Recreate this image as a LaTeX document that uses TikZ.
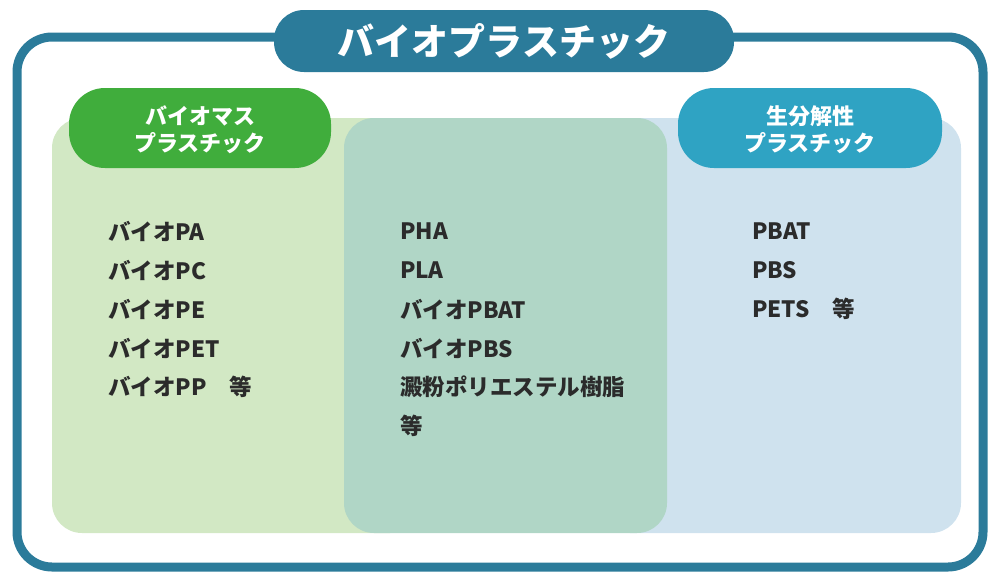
\documentclass[tikz,border=0pt]{standalone}
\usepackage{fontspec}
\setmainfont{Noto Sans CJK JP}
\definecolor{frameblue}{HTML}{2B7B9A}
\definecolor{pgreen}{HTML}{D2E8C4}
\definecolor{pmid}{HTML}{B0D6C6}
\definecolor{pblue}{HTML}{CFE2EE}
\definecolor{hgreen}{HTML}{40AD3C}
\definecolor{hblue}{HTML}{2FA3C3}
\definecolor{txt}{HTML}{2B2B2B}
\tikzset{
  panel/.style={rounded corners=30pt, draw=none},
  item/.style={anchor=west, inner sep=0pt, text=txt, font=\bfseries\fontsize{22.5}{39}\selectfont, align=left},
  head/.style={text=white, font=\bfseries\fontsize{22}{27}\selectfont, align=center, inner sep=0pt}
}
\begin{document}
\begin{tikzpicture}[x=1pt,y=-1pt]
\useasboundingbox (0,0) rectangle (988,571);
% outer frame
\draw[frameblue, line width=9pt, rounded corners=35pt] (17,37) rectangle (983,567);
% panels
\fill[pgreen, panel] (52,118) rectangle (420,533);
\fill[pblue, panel] (600,118) rectangle (961,533);
\fill[pmid, panel] (344,118) rectangle (667,533);
\node[minimum width=368pt, minimum height=415pt, inner sep=0pt] (pg) at (236,325.5) {};
\node[minimum width=323pt, minimum height=415pt, inner sep=0pt] (pm) at (505.5,325.5) {};
\node[minimum width=361pt, minimum height=415pt, inner sep=0pt] (pb) at (780.5,325.5) {};
% title pill
\fill[frameblue, rounded corners=30pt] (274,10) rectangle (734,72);
\node[text=white, font=\bfseries\fontsize{37}{40}\selectfont, inner sep=0pt] (title) at (504,41) {バイオプラスチック};
% header pills
\fill[hgreen, rounded corners=36pt] (69,88) rectangle (331,168);
\node[head] (hg) at (200,130) {バイオマス\\プラスチック};
\fill[hblue, rounded corners=36pt] (678,88) rectangle (942,168);
\node[head] (hb) at (810,130) {生分解性\\プラスチック};
% items
\node[item] (l1) at (108,231) {バイオPA};
\node[item] (l2) at (108,270) {バイオPC};
\node[item] (l3) at (108,309) {バイオPE};
\node[item] (l4) at (108,348) {バイオPET};
\node[item] (l5) at (108,387) {バイオPP　等};
\node[item] (m1) at (400,231) {PHA};
\node[item] (m2) at (400,270) {PLA};
\node[item] (m3) at (400,309) {バイオPBAT};
\node[item] (m4) at (400,348) {バイオPBS};
\node[item] (m5) at (400,387) {澱粉ポリエステル樹脂};
\node[item] (m6) at (400,426) {等};
\node[item] (r1) at (752,231) {PBAT};
\node[item] (r2) at (752,270) {PBS};
\node[item] (r3) at (752,309) {PETS　等};
\end{tikzpicture}
\end{document}
